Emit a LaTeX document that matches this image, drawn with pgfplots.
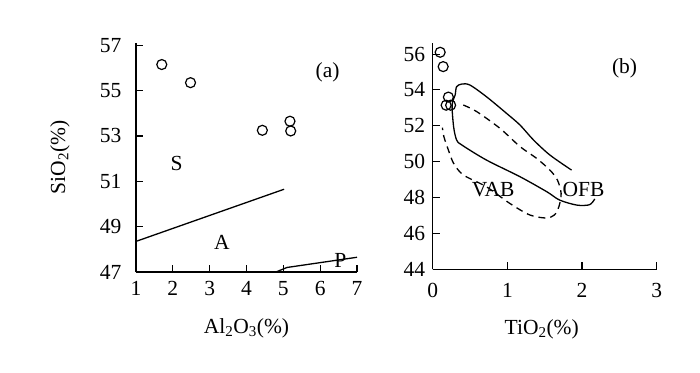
\documentclass[border=0pt]{standalone}
\usepackage{pgfplots}
\pgfplotsset{compat=1.18}
\usepackage{fontspec}
\setmainfont{Liberation Serif}
\begin{document}
\begin{tikzpicture}
\useasboundingbox[fill=white] (0pt,0pt) rectangle (700pt,372pt);
\pgfplotsset{
 every axis/.append style={
 scale only axis,
 anchor=south west,
 axis x line=bottom, axis y line=left,
 axis line style={-, line width=1.1pt},
 tick align=inside,
 major tick length=7pt,
 every tick/.style={line width=1.1pt, black},
 clip=false,
 font=\fontsize{21.5}{24}\selectfont,
 ticklabel style={font=\fontsize{21.5}{24}\selectfont},
 /pgf/number format/assume math mode=true,
 },
}
% (a) SiO2 vs Al2O3
\begin{axis}[
 at={(136pt,100pt)},
 width=221pt, height=229pt,
 xmin=1, xmax=7, ymin=47, ymax=57.1,
 xtick={1,2,...,7},
 ytick={47,49,...,57},
 xticklabel style={yshift=-6pt},
 yticklabel style={xshift=-11pt},
 xlabel={Al\textsubscript{2}O\textsubscript{3}(\%)},
 ylabel={SiO\textsubscript{2}(\%)},
 xlabel style={at={(axis description cs:0.5,0)}, anchor=center, yshift=-56pt},
 ylabel style={at={(axis description cs:0,0.5)}, anchor=center, yshift=76pt},
]
\addplot[only marks, mark=o, mark size=5pt, line width=1.2pt] coordinates {
 (1.7,56.15) (2.48,55.35) (4.43,53.25) (5.18,53.65) (5.2,53.22)
};
\addplot[line width=1.3pt] coordinates {(1,48.35) (5.02,50.65)};
\addplot[line width=1.3pt] coordinates {(4.8,47) (5.1,47.2) (7,47.65)};
\node at (axis cs:2.1,51.8) {S};
\node at (axis cs:3.33,48.3) {A};
\node at (axis cs:6.55,47.5) {P};
\node at (axis cs:6.2,55.8) {(a)};
\end{axis}
% (b) SiO2 vs TiO2
\begin{axis}[
 at={(432.7pt,102.7pt)},
 width=224pt, height=226pt,
 xmin=0, xmax=3, ymin=44, ymax=56.6,
 xtick={0,1,2,3},
 ytick={44,46,...,56},
 xticklabel style={yshift=-10pt},
 yticklabel style={xshift=-4pt},
 xlabel={TiO\textsubscript{2}(\%)},
 xlabel style={at={(axis description cs:0.5,0)}, anchor=center, yshift=-60pt, xshift=-3pt},
]
\addplot[only marks, mark=o, mark size=5pt, line width=1.2pt] coordinates {
 (0.1,56.1) (0.14,55.3) (0.18,53.15) (0.21,53.6) (0.24,53.15)
};
% OFB field (solid)
\addplot[smooth, tension=0.5, line width=1.3pt] coordinates {
 (1.86,49.53) (1.57,50.37) (1.35,51.21) (1.17,52.04) (0.99,52.69)
 (0.72,53.62) (0.5,54.27) (0.39,54.33) (0.32,54.18) (0.3,53.71)
 (0.26,53.16) (0.28,51.95) (0.32,51.21) (0.39,50.93) (0.72,50.09)
 (1.17,49.16) (1.53,48.32) (1.7,47.86) (1.93,47.58) (2.1,47.6) (2.17,47.92)
};
% VAB field (dashed)
\addplot[smooth, tension=0.5, line width=1.3pt, dash pattern=on 7pt off 5pt] coordinates {
 (0.41,53.16) (0.59,52.79) (0.9,51.86) (1.17,50.84) (1.39,50.19)
 (1.57,49.53) (1.67,48.98) (1.72,48.23) (1.69,47.49) (1.63,47.03)
 (1.52,46.86) (1.3,47.03) (1.03,47.68) (0.72,48.6) (0.41,49.26)
 (0.28,49.91) (0.21,50.65) (0.15,51.39) (0.13,51.9)
};
\node at (axis cs:0.81,48.42) {VAB};
\node at (axis cs:2.02,48.46) {OFB};
\node at (axis cs:2.57,55.2) {(b)};
\end{axis}
\end{tikzpicture}
\end{document}
